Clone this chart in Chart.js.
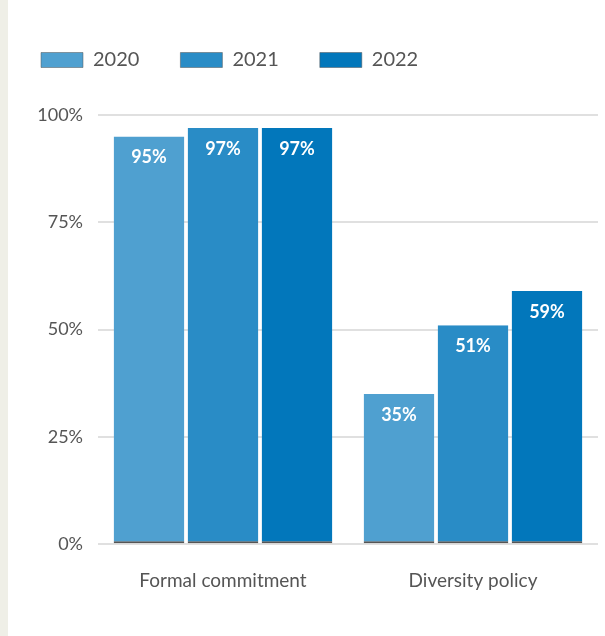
<!DOCTYPE html>
<html>
<head>
<meta charset="utf-8">
<script src="https://cdn.jsdelivr.net/npm/chart.js@4"></script>
<style>
	html, body { margin: 0; padding: 0; }
	body { width: 605px; height: 636px; background: linear-gradient(to right, #efefe7 0, #efefe7 8px, #ffffff 8px); overflow: hidden; }
	#wrap { position: relative; width: 605px; height: 636px; }
</style>
</head>
<body>
<div id="wrap"><canvas id="my-chart"></canvas></div>
<script>
//Data
const categories = ["Formal commitment", "Diversity policy"];
const years = ["2020", "2021", "2022"];
const values2020 = [95, 35];
const values2021 = [97, 51];
const values2022 = [97, 59];
const yTicks = [0, 25, 50, 75, 100];

const colors = ["#4fa0d0", "#298cc6", "#0277bb"];
const textColor = "#555555";
const fontFamily = "Lato, 'Open Sans', sans-serif";

//Plugins
const legendGap = {
	id: "legendGap",
	beforeInit(chart) {
		const fit = chart.legend.fit;
		chart.legend.fit = function () {
			fit.call(this);
			this.height += 35;
		};
	},
};

const barLabels = {
	id: "barLabels",
	afterDatasetsDraw(chart) {
		const ctx = chart.ctx;
		ctx.save();
		ctx.fillStyle = "#ffffff";
		ctx.font = "bold 18px " + fontFamily;
		ctx.textAlign = "center";
		ctx.textBaseline = "middle";
		chart.data.datasets.forEach((ds, i) => {
			chart.getDatasetMeta(i).data.forEach((bar, j) => {
				ctx.fillText(ds.data[j] + "%", bar.x, bar.y + 21);
			});
		});
		ctx.restore();
	},
};

const ctx = document.getElementById("my-chart").getContext("2d");

const data = {
	labels: categories,
	datasets: [values2020, values2021, values2022].map((vals, i) => ({
		label: years[i],
		data: vals,
		backgroundColor: colors[i],
		borderColor: "#555555",
		borderWidth: { top: 0, left: 0, right: 0, bottom: 2 },
		borderSkipped: false,
		barPercentage: 0.955,
		categoryPercentage: 0.888,
	})),
};

const config = {
	type: "bar",
	data: data,
	plugins: [legendGap, barLabels],
	options: {
		responsive: true,
		maintainAspectRatio: false,
		animation: false,
		layout: {
			padding: { top: 9, right: 7, bottom: 27, left: 0 },
		},
		plugins: {
			legend: {
				position: "top",
				align: "start",
				labels: {
					boxWidth: 42,
					boxHeight: 15,
					padding: 41,
					color: textColor,
					font: { family: fontFamily, size: 20 },
				},
			},
			tooltip: { enabled: false },
		},
		scales: {
			x: {
				grid: { display: false },
				border: { display: false },
				ticks: {
					color: textColor,
					padding: 17,
					font: { family: fontFamily, size: 19 },
				},
			},
			y: {
				min: 0,
				max: 100,
				z: 1,
				afterFit(scale) {
					scale.width = 98;
				},
				afterBuildTicks(scale) {
					scale.ticks = yTicks.map((v) => ({ value: v }));
				},
				border: { display: false },
				grid: {
					color: "rgba(0,0,0,0.12)",
					lineWidth: 2,
					drawTicks: false,
				},
				ticks: {
					color: textColor,
					padding: 15,
					font: { family: fontFamily, size: 18 },
					callback: (v) => v + "%",
				},
			},
		},
	},
};

new Chart(ctx, config);
</script>
</body>
</html>
